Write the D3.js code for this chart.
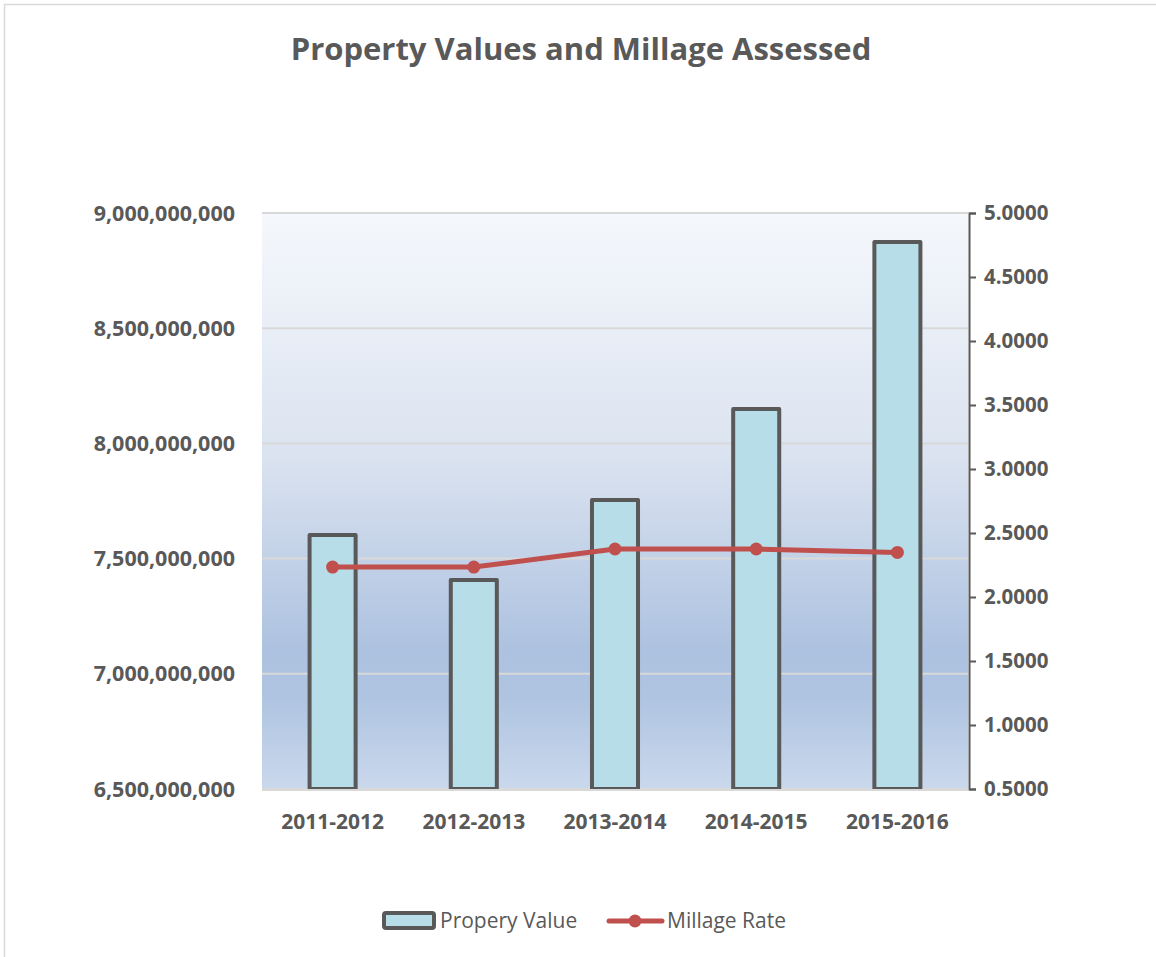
<!DOCTYPE html>
<html>
<head>
<meta charset="utf-8">
<script src="https://cdn.jsdelivr.net/npm/d3@7"></script>
<style>
  body { margin: 0; background: #fff; }
  svg text { font-family: "Open Sans", "Lato", sans-serif; fill: #595959; }
</style>
</head>
<body>
<script>
// chart values
const years = ["2011-2012", "2012-2013", "2013-2014", "2014-2015", "2015-2016"];
const propertyValues = [7602000000, 7407000000, 7754000000, 8149000000, 8874000000];
const millageRates = [2.234, 2.234, 2.375, 2.375, 2.348];
const leftTicks = [6500000000, 7000000000, 7500000000, 8000000000, 8500000000, 9000000000];
const rightTicks = [0.5, 1.0, 1.5, 2.0, 2.5, 3.0, 3.5, 4.0, 4.5, 5.0];

const width = 1156;
const height = 957;
const plot = {left: 262, right: 968, top: 213, bottom: 789};

const svg = d3.select("body").append("svg")
    .attr("width", width)
    .attr("height", height);

// chart border (runs off the right / bottom edge)
svg.append("rect")
    .attr("x", 4.5).attr("y", 4.5)
    .attr("width", width + 20).attr("height", height + 20)
    .attr("fill", "#fff")
    .attr("stroke", "#d9d9d9")
    .attr("stroke-width", 1.5);

svg.append("text")
    .attr("x", 581).attr("y", 60)
    .attr("text-anchor", "middle")
    .style("font-size", "31px")
    .style("font-weight", "bold")
    .text("Property Values and Millage Assessed");

const x = d3.scaleBand()
    .domain(years)
    .range([plot.left, plot.right])
    .paddingInner(0.674)
    .paddingOuter(0.337);

const yLeft = d3.scaleLinear()
    .domain([6500000000, 9000000000])
    .range([plot.bottom, plot.top]);

const yRight = d3.scaleLinear()
    .domain([0.5, 5.0])
    .range([plot.bottom, plot.top]);

// plot area gradient
const defs = svg.append("defs");
const bg = defs.append("linearGradient")
    .attr("id", "plotbg")
    .attr("x1", "0%").attr("x2", "0%")
    .attr("y1", "0%").attr("y2", "100%");
const bgStops = [[0, "#f5f8fc"], [0.42, "#dbe3f0"], [0.76, "#adc2e0"], [0.84, "#afc4e1"], [1, "#cad8ec"]];
bg.selectAll("stop")
    .data(bgStops)
    .enter()
    .append("stop")
    .attr("offset", d => d[0] * 100 + "%")
    .attr("stop-color", d => d[1]);

svg.append("rect")
    .attr("x", plot.left).attr("y", plot.top)
    .attr("width", plot.right - plot.left)
    .attr("height", plot.bottom - plot.top)
    .attr("fill", "url(#plotbg)");

// gridlines
svg.append("g")
    .selectAll("line")
    .data(leftTicks)
    .enter()
    .append("line")
    .attr("x1", plot.left).attr("x2", plot.right)
    .attr("y1", d => yLeft(d)).attr("y2", d => yLeft(d))
    .attr("stroke", "#d9d9d9")
    .attr("stroke-width", 2);

// left axis labels (no line)
const fmtLeft = d3.format(",");
svg.append("g")
    .selectAll("text")
    .data(leftTicks)
    .enter()
    .append("text")
    .attr("x", 235)
    .attr("y", d => yLeft(d))
    .attr("dy", "0.35em")
    .attr("text-anchor", "end")
    .style("font-size", "21.5px")
    .style("font-weight", "bold")
    .text(d => fmtLeft(d));

// right axis
const rightAxis = svg.append("g")
    .attr("transform", `translate(${plot.right + 1},0)`)
    .call(d3.axisRight(yRight).tickValues(rightTicks).tickSize(7).tickPadding(8).tickFormat(d3.format(".4f")));
rightAxis.select(".domain").attr("stroke", "#595959").attr("stroke-width", 2);
rightAxis.selectAll(".tick line").attr("stroke", "#595959").attr("stroke-width", 2);
rightAxis.selectAll(".tick text")
    .attr("fill", "#595959")
    .style("font-size", "20.5px")
    .style("font-weight", "bold");

// bars
svg.append("g")
    .selectAll("rect")
    .data(years)
    .enter()
    .append("rect")
    .attr("x", d => x(d))
    .attr("y", (d, i) => yLeft(propertyValues[i]))
    .attr("width", x.bandwidth())
    .attr("height", (d, i) => yLeft(6500000000) - yLeft(propertyValues[i]))
    .attr("fill", "#b7dde8")
    .attr("stroke", "#595959")
    .attr("stroke-width", 4)
    .attr("stroke-linejoin", "round");

// bottom axis line
svg.append("line")
    .attr("x1", plot.left).attr("x2", plot.right)
    .attr("y1", plot.bottom + 1).attr("y2", plot.bottom + 1)
    .attr("stroke", "#d9d9d9")
    .attr("stroke-width", 2);

// category labels
svg.append("g")
    .selectAll("text")
    .data(years)
    .enter()
    .append("text")
    .attr("x", d => x(d) + x.bandwidth() / 2)
    .attr("y", 829)
    .attr("text-anchor", "middle")
    .style("font-size", "21px")
    .style("font-weight", "bold")
    .text(d => d);

// millage line
const line = d3.line()
    .x((d, i) => x(years[i]) + x.bandwidth() / 2)
    .y(d => yRight(d));

svg.append("path")
    .datum(millageRates)
    .attr("d", line)
    .attr("fill", "none")
    .attr("stroke", "#c0504d")
    .attr("stroke-width", 5)
    .attr("stroke-linejoin", "round");

svg.append("g")
    .selectAll("circle")
    .data(millageRates)
    .enter()
    .append("circle")
    .attr("cx", (d, i) => x(years[i]) + x.bandwidth() / 2)
    .attr("cy", d => yRight(d))
    .attr("r", 6.5)
    .attr("fill", "#c0504d");

// legend
const legend = svg.append("g");
legend.append("rect")
    .attr("x", 384).attr("y", 913)
    .attr("width", 50).attr("height", 15)
    .attr("rx", 2)
    .attr("fill", "#b7dde8")
    .attr("stroke", "#595959")
    .attr("stroke-width", 4);
legend.append("text")
    .attr("x", 440).attr("y", 928)
    .style("font-size", "21px")
    .text("Propery Value");
legend.append("line")
    .attr("x1", 609).attr("x2", 662)
    .attr("y1", 921).attr("y2", 921)
    .attr("stroke", "#c0504d")
    .attr("stroke-width", 5)
    .attr("stroke-linecap", "round");
legend.append("circle")
    .attr("cx", 635).attr("cy", 921)
    .attr("r", 6.5)
    .attr("fill", "#c0504d");
legend.append("text")
    .attr("x", 667).attr("y", 928)
    .style("font-size", "21px")
    .text("Millage Rate");
</script>
</body>
</html>
